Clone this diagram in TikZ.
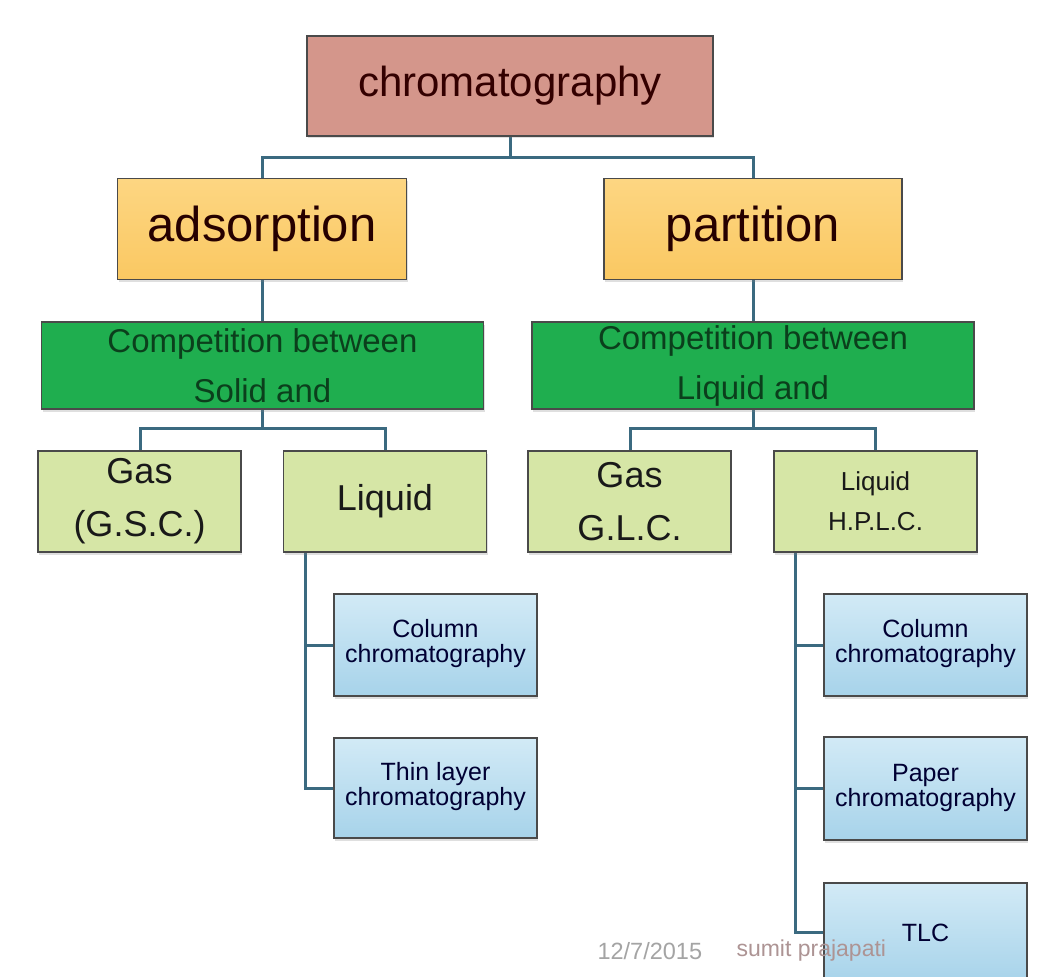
\documentclass[tikz,border=0pt]{standalone}
\usepackage{fontspec}
\setmainfont{Liberation Sans}
\usetikzlibrary{shadows}
\definecolor{conn}{HTML}{3B6A80}
\definecolor{bord}{HTML}{4A4A4A}
\definecolor{titlefill}{HTML}{D4968B}
\definecolor{yeltop}{HTML}{FDD682}
\definecolor{yelbot}{HTML}{FAC862}
\definecolor{grnfill}{HTML}{1FAE4F}
\definecolor{grntext}{HTML}{0B3F1C}
\definecolor{lgfill}{HTML}{D6E6A6}
\definecolor{bluetop}{HTML}{D2EAF6}
\definecolor{bluebot}{HTML}{A7D3EA}
\definecolor{foot}{HTML}{A4A4A4}
\tikzset{
  boxbase/.style={draw=bord, line width=1.5pt, align=center, inner sep=0pt,
    drop shadow={shadow xshift=1pt, shadow yshift=-2.5pt, opacity=0.25}},
  titlebox/.style={boxbase, fill=titlefill, text=black!80!red,
    font=\fontsize{42}{50}\selectfont, minimum width=406pt, minimum height=100pt},
  yelbox/.style={boxbase, top color=yeltop, bottom color=yelbot, text=black!85!red,
    font=\fontsize{49}{58}\selectfont, minimum height=101pt},
  grnbox/.style={boxbase, fill=grnfill, text=grntext,
    font=\fontsize{33}{50}\selectfont, minimum width=442pt, minimum height=87pt},
  lgbox/.style={boxbase, fill=lgfill, text=black!90,
    minimum width=203pt, minimum height=101pt},
  bluebox/.style={boxbase, top color=bluetop, bottom color=bluebot, text=black!80!blue,
    font=\fontsize{25}{26}\selectfont, minimum width=203pt, minimum height=102pt},
  link/.style={draw=conn, line width=3pt},
  bigtxt/.style={font=\fontsize{36}{53}\selectfont},
  smalltxt/.style={font=\fontsize{26}{40}\selectfont}
}
\begin{document}
\begin{tikzpicture}[x=1pt, y=-1pt]
\useasboundingbox (0,0) rectangle (1064,976);
\clip (0,0) rectangle (1064,976);
\fill[white] (0,0) rectangle (1064,976);

% junction coordinates
\coordinate (j1) at (510,158);
\coordinate (j2) at (262.5,428);
\coordinate (j3) at (753,428);
\coordinate (tA) at (305,552);
\coordinate (tB) at (795,552);

% connectors (drawn first, boxes on top)
\draw[link] (510,136) -- (j1);
\draw[link] (262,178) |- (j1) -| (753,178);
\draw[link] (262,280) -- (262,322);
\draw[link] (753,280) -- (753,322);
\draw[link] (262.5,409) -- (j2);
\draw[link] (140,451) |- (j2) -| (385,451);
\draw[link] (753,409) -- (j3);
\draw[link] (630,451) |- (j3) -| (875.5,451);
\draw[link] (tA) |- (334,645);
\draw[link] (tA) |- (334,788);
\draw[link] (tB) |- (824,645);
\draw[link] (tB) |- (824,788.5);
\draw[link] (tB) |- (824,932);

% boxes
\node[titlebox] (chrom) at (510,86) {chromatography};
\node[yelbox, minimum width=289pt] (ads) at (262,229) {adsorption};
\node[yelbox, minimum width=298pt] (part) at (753,229) {partition};
\node[grnbox] (g1) at (262.5,365.5) {Competition between\\Solid and};
\node[grnbox] (g2) at (753,365.5) {Competition between\\Liquid and};
\node[lgbox, bigtxt] (gsc) at (139.5,501.5) {Gas\\(G.S.C.)};
\node[lgbox, bigtxt] (liqA) at (385,501.5) {Liquid};
\node[lgbox, bigtxt] (glc) at (629.5,501.5) {Gas\\G.L.C.};
\node[lgbox, smalltxt] (liqB) at (875.5,501.5) {Liquid\\H.P.L.C.};
\node[bluebox] (colA) at (435.5,645) {\raisebox{-4pt}{\begin{tabular}{@{}c@{}}Column\\[-1pt]chromatography\end{tabular}}};
\node[bluebox, minimum height=100pt] (thinA) at (435.5,788) {\raisebox{-4pt}{\begin{tabular}{@{}c@{}}Thin layer\\[-1pt]chromatography\end{tabular}}};
\node[bluebox] (colB) at (925.5,645) {\raisebox{-4pt}{\begin{tabular}{@{}c@{}}Column\\[-1pt]chromatography\end{tabular}}};
\node[bluebox, minimum height=103pt] (paper) at (925.5,788.5) {\raisebox{-4pt}{\begin{tabular}{@{}c@{}}Paper\\[-1pt]chromatography\end{tabular}}};
\node[bluebox, minimum height=100pt] (tlc) at (925.5,933) {TLC};

% footer
\node[anchor=west, text=foot, font=\fontsize{23.5}{26}\selectfont] (date) at (594,951) {12/7/2015};
\node[anchor=west, text=foot!90!red, font=\fontsize{23}{26}\selectfont] (author) at (733,951) {sumit prajapati};
\end{tikzpicture}
\end{document}
